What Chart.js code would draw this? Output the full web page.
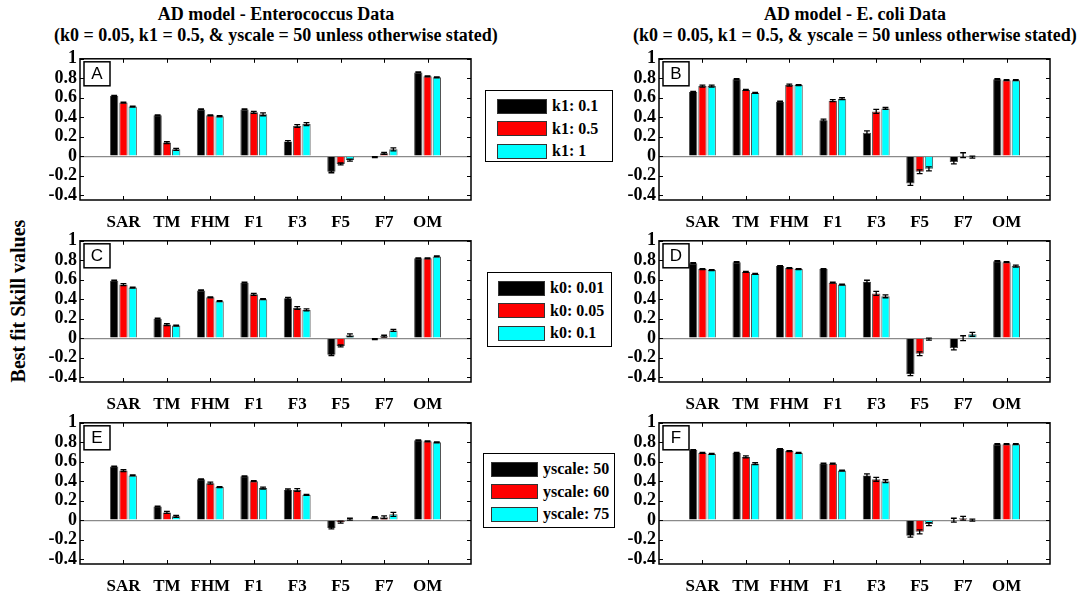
<!DOCTYPE html>
<html>
<head>
<meta charset="utf-8">
<script src="https://cdn.jsdelivr.net/npm/chart.js@4.4.0/dist/chart.umd.min.js"></script>
<style>
  body { margin: 0; background: #fff; width: 1086px; height: 592px; position: relative; overflow: hidden;
         font-family: "Liberation Serif", "DejaVu Serif", serif; font-weight: bold; color: #000; }
  .title { position: absolute; width: 560px; text-align: center; font-size: 18px; line-height: 21px; }
  canvas { position: absolute; }
  .legend { position: absolute; border: 1.5px solid #000; background: #fff; box-sizing: border-box; }
  .legend .row { position: absolute; display: flex; align-items: center; font-size: 16px; }
  .legend .sw { width: 50px; height: 15px; border: 1px solid #333; box-sizing: border-box; margin-right: 5px; }
  .ylabel { position: absolute; left: 18px; top: 301px; transform: translate(-50%, -50%) rotate(-90deg);
            font-size: 20px; white-space: nowrap; }
</style>
</head>
<body>
<div class="title" style="left:-4px;top:4px">AD model - Enterococcus Data<br>(k0 = 0.05, k1 = 0.5, &amp; yscale = 50 unless otherwise stated)</div>
<div class="title" style="left:575px;top:4px">AD model - E. coli Data<br>(k0 = 0.05, k1 = 0.5, &amp; yscale = 50 unless otherwise stated)</div>
<div class="ylabel">Best fit Skill values</div>

<canvas id="chartA"></canvas>
<canvas id="chartB"></canvas>
<canvas id="chartC"></canvas>
<canvas id="chartD"></canvas>
<canvas id="chartE"></canvas>
<canvas id="chartF"></canvas>

<div id="legendA" class="legend"></div>
<div id="legendC" class="legend"></div>
<div id="legendE" class="legend"></div>

<script>
const categories = ['SAR', 'TM', 'FHM', 'F1', 'F3', 'F5', 'F7', 'OM'];
const yTicks = [-0.4, -0.2, 0, 0.2, 0.4, 0.6, 0.8, 1];
const seriesColors = ['#000000', '#ff0000', '#00ffff'];

// panel A - Enterococcus, k1
const entK1_01 = [0.62, 0.42, 0.48, 0.48, 0.15, -0.16, -0.01, 0.86];
const entK1_05 = [0.55, 0.14, 0.42, 0.45, 0.31, -0.08, 0.03, 0.82];
const entK1_1 = [0.51, 0.07, 0.41, 0.43, 0.33, -0.04, 0.07, 0.81];
const entK1_01Err = [0.005, 0.005, 0.005, 0.005, 0.01, 0.01, 0.005, 0.005];
const entK1_05Err = [0.005, 0.01, 0.005, 0.01, 0.015, 0.01, 0.01, 0.005];
const entK1_1Err = [0.005, 0.01, 0.005, 0.015, 0.015, 0.01, 0.015, 0.005];

// panel B - E. coli, k1
const ecoK1_01 = [0.66, 0.79, 0.56, 0.37, 0.24, -0.28, -0.06, 0.79];
const ecoK1_05 = [0.72, 0.68, 0.73, 0.57, 0.46, -0.16, 0.01, 0.78];
const ecoK1_1 = [0.72, 0.65, 0.73, 0.59, 0.49, -0.13, -0.01, 0.78];
const ecoK1_01Err = [0.005, 0.005, 0.005, 0.01, 0.02, 0.02, 0.02, 0.005];
const ecoK1_05Err = [0.01, 0.005, 0.01, 0.01, 0.02, 0.02, 0.025, 0.005];
const ecoK1_1Err = [0.01, 0.005, 0.005, 0.01, 0.01, 0.02, 0.01, 0.005];

// panel C - Enterococcus, k0
const entK0_001 = [0.59, 0.20, 0.49, 0.57, 0.41, -0.17, -0.01, 0.82];
const entK0_005 = [0.55, 0.14, 0.42, 0.45, 0.31, -0.08, 0.02, 0.82];
const entK0_01 = [0.52, 0.13, 0.38, 0.40, 0.29, 0.03, 0.08, 0.84];
const entK0_001Err = [0.005, 0.005, 0.005, 0.005, 0.01, 0.01, 0.005, 0.005];
const entK0_005Err = [0.01, 0.01, 0.005, 0.01, 0.015, 0.01, 0.01, 0.005];
const entK0_01Err = [0.005, 0.005, 0.005, 0.005, 0.01, 0.015, 0.01, 0.005];

// panel D - E. coli, k0
const ecoK0_001 = [0.77, 0.78, 0.74, 0.71, 0.58, -0.37, -0.10, 0.79];
const ecoK0_005 = [0.71, 0.68, 0.72, 0.57, 0.46, -0.16, 0.00, 0.78];
const ecoK0_01 = [0.70, 0.66, 0.71, 0.55, 0.43, -0.01, 0.04, 0.74];
const ecoK0_001Err = [0.005, 0.005, 0.005, 0.005, 0.015, 0.015, 0.02, 0.005];
const ecoK0_005Err = [0.005, 0.005, 0.005, 0.005, 0.02, 0.02, 0.025, 0.005];
const ecoK0_01Err = [0.005, 0.005, 0.005, 0.005, 0.015, 0.01, 0.02, 0.01];

// panel E - Enterococcus, yscale
const entYs50 = [0.55, 0.14, 0.42, 0.45, 0.31, -0.08, 0.03, 0.82];
const entYs60 = [0.51, 0.08, 0.38, 0.40, 0.31, -0.02, 0.03, 0.81];
const entYs75 = [0.46, 0.04, 0.34, 0.33, 0.26, 0.01, 0.06, 0.80];
const entYs50Err = [0.005, 0.005, 0.005, 0.005, 0.01, 0.01, 0.005, 0.005];
const entYs60Err = [0.01, 0.01, 0.01, 0.005, 0.015, 0.01, 0.015, 0.005];
const entYs75Err = [0.005, 0.01, 0.005, 0.01, 0.005, 0.01, 0.02, 0.005];

// panel F - E. coli, yscale
const ecoYs50 = [0.72, 0.69, 0.73, 0.58, 0.46, -0.16, 0.00, 0.78];
const ecoYs60 = [0.69, 0.65, 0.71, 0.58, 0.42, -0.12, 0.02, 0.78];
const ecoYs75 = [0.68, 0.58, 0.69, 0.51, 0.40, -0.04, 0.00, 0.78];
const ecoYs50Err = [0.005, 0.005, 0.005, 0.005, 0.015, 0.015, 0.02, 0.005];
const ecoYs60Err = [0.005, 0.01, 0.005, 0.005, 0.02, 0.02, 0.02, 0.005];
const ecoYs75Err = [0.005, 0.01, 0.005, 0.005, 0.015, 0.015, 0.01, 0.005];

const k1Labels = ['k1: 0.1', 'k1: 0.5', 'k1: 1'];
const k0Labels = ['k0: 0.01', 'k0: 0.05', 'k0: 0.1'];
const yscaleLabels = ['yscale: 50', 'yscale: 60', 'yscale: 75'];

const panels = [
  { id: 'chartA', letter: 'A', left: 30, top: 45, series: [entK1_01, entK1_05, entK1_1], errs: [entK1_01Err, entK1_05Err, entK1_1Err], names: k1Labels },
  { id: 'chartB', letter: 'B', left: 609, top: 45, series: [ecoK1_01, ecoK1_05, ecoK1_1], errs: [ecoK1_01Err, ecoK1_05Err, ecoK1_1Err], names: k1Labels },
  { id: 'chartC', letter: 'C', left: 30, top: 227, series: [entK0_001, entK0_005, entK0_01], errs: [entK0_001Err, entK0_005Err, entK0_01Err], names: k0Labels },
  { id: 'chartD', letter: 'D', left: 609, top: 227, series: [ecoK0_001, ecoK0_005, ecoK0_01], errs: [ecoK0_001Err, ecoK0_005Err, ecoK0_01Err], names: k0Labels },
  { id: 'chartE', letter: 'E', left: 30, top: 409, series: [entYs50, entYs60, entYs75], errs: [entYs50Err, entYs60Err, entYs75Err], names: yscaleLabels },
  { id: 'chartF', letter: 'F', left: 609, top: 409, series: [ecoYs50, ecoYs60, ecoYs75], errs: [ecoYs50Err, ecoYs60Err, ecoYs75Err], names: yscaleLabels },
];

const PAD_TOP = 11;
const Y_WIDTH = 50;
const PLOT_W = 391;
const PLOT_H = 144;
const X_HEIGHT = 28;

// frame, inward ticks, panel letter and error bars
const framePlugin = {
  id: 'frame',
  afterDatasetsDraw(chart, args, opts) {
    const ctx = chart.ctx;
    const y = chart.scales.y;
    ctx.save();
    ctx.strokeStyle = '#000';
    ctx.lineWidth = 1.3;
    chart.data.datasets.forEach((ds, di) => {
      const meta = chart.getDatasetMeta(di);
      meta.data.forEach((bar, i) => {
        const v = ds.data[i];
        if (v === null || v === undefined) return;
        const e = ds.err[i];
        const yTop = y.getPixelForValue(v + e);
        const yBot = y.getPixelForValue(v - e);
        const half = bar.width * 0.35;
        ctx.beginPath();
        ctx.moveTo(bar.x, yTop); ctx.lineTo(bar.x, yBot);
        ctx.moveTo(bar.x - half, yTop); ctx.lineTo(bar.x + half, yTop);
        ctx.moveTo(bar.x - half, yBot); ctx.lineTo(bar.x + half, yBot);
        ctx.stroke();
      });
    });
    ctx.restore();
  },
  afterDraw(chart, args, opts) {
    const ctx = chart.ctx;
    const a = chart.chartArea;
    const x = chart.scales.x;
    const y = chart.scales.y;
    ctx.save();
    ctx.strokeStyle = '#000';
    ctx.lineWidth = 1.5;
    ctx.strokeRect(a.left, a.top, a.right - a.left, a.bottom - a.top);
    ctx.lineWidth = 1;
    ctx.beginPath();
    for (let i = 1; i <= categories.length; i++) {
      const px = Math.round(x.getPixelForValue(i)) + 0.5;
      ctx.moveTo(px, a.bottom); ctx.lineTo(px, a.bottom - 4);
      ctx.moveTo(px, a.top); ctx.lineTo(px, a.top + 4);
    }
    y.ticks.forEach((t) => {
      const py = Math.round(y.getPixelForValue(t.value)) + 0.5;
      ctx.moveTo(a.left, py); ctx.lineTo(a.left + 4, py);
      ctx.moveTo(a.right, py); ctx.lineTo(a.right - 4, py);
    });
    ctx.stroke();
    // letter box
    ctx.lineWidth = 1.5;
    ctx.fillStyle = '#fff';
    ctx.fillRect(a.left + 4, a.top + 3, 26, 24);
    ctx.strokeRect(a.left + 4, a.top + 3, 26, 24);
    ctx.fillStyle = '#000';
    ctx.font = '17px "Liberation Sans", Arial, sans-serif';
    ctx.textAlign = 'center';
    ctx.textBaseline = 'middle';
    ctx.fillText(opts.letter, a.left + 17, a.top + 16);
    ctx.restore();
  },
};

function buildChart(panel) {
  const canvas = document.getElementById(panel.id);
  const width = Y_WIDTH + PLOT_W + 6;
  const height = PAD_TOP + PLOT_H + X_HEIGHT;
  canvas.style.left = panel.left + 'px';
  canvas.style.top = panel.top + 'px';
  canvas.style.width = width + 'px';
  canvas.style.height = height + 'px';
  canvas.width = width;
  canvas.height = height;

  const labels = ['', ...categories, ''];
  const datasets = panel.series.map((values, si) => ({
    label: panel.names[si],
    data: [null, ...values, null],
    err: [0, ...panel.errs[si], 0],
    backgroundColor: seriesColors[si],
    borderColor: 'rgba(40,40,40,0.8)',
    borderWidth: 1,
    categoryPercentage: 0.64,
    barPercentage: 0.9,
  }));

  return new Chart(canvas, {
    type: 'bar',
    data: { labels, datasets },
    plugins: [framePlugin],
    options: {
      responsive: false,
      animation: false,
      layout: { padding: { top: PAD_TOP, right: 6, left: 0, bottom: 0 } },
      plugins: {
        legend: { display: false },
        tooltip: { enabled: false },
        frame: { letter: panel.letter },
      },
      scales: {
        x: {
          offset: false,
          grid: { display: false },
          border: { display: false },
          ticks: {
            autoSkip: false,
            maxRotation: 0,
            color: '#000',
            padding: 4,
            font: { family: '"Liberation Serif", serif', size: 17, weight: 'bold' },
          },
          afterFit: (scale) => { scale.height = X_HEIGHT; },
        },
        y: {
          min: -0.45,
          max: 1,
          grid: {
            drawTicks: false,
            color: (c) => (c.tick && Math.abs(c.tick.value) < 1e-9 ? '#8a8a8a' : 'rgba(0,0,0,0)'),
            lineWidth: 1.2,
          },
          border: { display: false },
          afterBuildTicks: (scale) => { scale.ticks = yTicks.map((v) => ({ value: v })); },
          ticks: {
            autoSkip: false,
            color: '#000',
            padding: 3,
            font: { family: '"Liberation Serif", serif', size: 18, weight: 'bold' },
            callback: (v) => String(Number(v.toFixed(1))),
          },
          afterFit: (scale) => { scale.width = Y_WIDTH; },
        },
      },
    },
  });
}

function buildLegend(id, box, names) {
  const el = document.getElementById(id);
  el.style.left = box.left + 'px';
  el.style.top = box.top + 'px';
  el.style.width = box.width + 'px';
  el.style.height = box.height + 'px';
  names.forEach((name, i) => {
    const row = document.createElement('div');
    row.className = 'row';
    row.style.left = box.inset + 'px';
    row.style.top = (6 + i * 22.5) + 'px';
    const sw = document.createElement('div');
    sw.className = 'sw';
    sw.style.background = seriesColors[i];
    sw.style.width = box.swatch + 'px';
    const text = document.createElement('span');
    text.textContent = name;
    row.append(sw, text);
    el.appendChild(row);
  });
}

panels.forEach(buildChart);
buildLegend('legendA', { left: 485, top: 90, width: 128, height: 72, inset: 11, swatch: 50 }, k1Labels);
buildLegend('legendC', { left: 487, top: 272, width: 125, height: 75, inset: 10, swatch: 47 }, k0Labels);
buildLegend('legendE', { left: 483, top: 453, width: 132, height: 75, inset: 7, swatch: 47 }, yscaleLabels);
</script>
</body>
</html>
